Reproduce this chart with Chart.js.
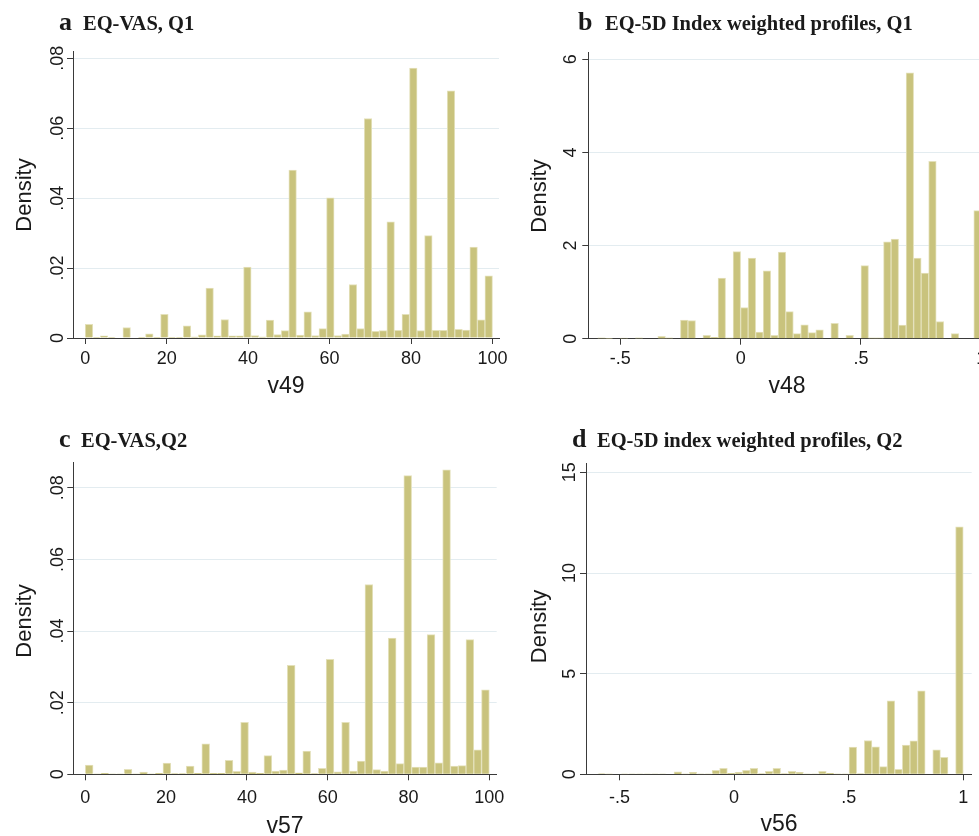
<!DOCTYPE html>
<html>
<head>
<meta charset="utf-8">
<script src="https://cdn.jsdelivr.net/npm/chart.js@4.4.0/dist/chart.umd.min.js"></script>
<style>
  html, body { margin: 0; padding: 0; background: #fff; }
  body { width: 979px; height: 836px; overflow: hidden; position: relative; }
  canvas { position: absolute; }
</style>
</head>
<body>
<canvas id="panelB" width="500" height="418" style="left:500px;top:0"></canvas>
<canvas id="panelD" width="500" height="416" style="left:500px;top:420px"></canvas>
<canvas id="panelA" width="520" height="418" style="left:0;top:0"></canvas>
<canvas id="panelC" width="520" height="416" style="left:0;top:420px"></canvas>
<script>
// a: EQ-VAS, Q1 (v49), 54 bins over 0-100
const vasQ1Density = [
  0.0039, 0.0002, 0.0006, 0.0002, 0, 0.0030, 0, 0.0001, 0.0012, 0.0002,
  0.0068, 0.0002, 0.0002, 0.0035, 0.0003, 0.0009, 0.0143, 0.0006, 0.0053, 0.0006,
  0.0006, 0.0203, 0.0007, 0.0003, 0.0051, 0.0010, 0.0021, 0.0480, 0.0008, 0.0075,
  0.0007, 0.0027, 0.0401, 0.0007, 0.0011, 0.0153, 0.0027, 0.0628, 0.0019, 0.0021,
  0.0332, 0.0022, 0.0068, 0.0772, 0.0021, 0.0293, 0.0022, 0.0022, 0.0707, 0.0025,
  0.0023, 0.0260, 0.0052, 0.0178
];
const vasQ1BinStart = 0;
const vasQ1BinWidth = 100 / 54;

// c: EQ-VAS, Q2 (v57), 52 bins over 0-100
const vasQ2Density = [
  0.0026, 0.0001, 0.0003, 0.0001, 0.0001, 0.0014, 0.0001, 0.0006, 0.0001, 0.0003,
  0.0031, 0.0002, 0.0002, 0.0023, 0.0003, 0.0085, 0.0003, 0.0003, 0.0039, 0.0008,
  0.0145, 0.0006, 0.0003, 0.0052, 0.0009, 0.0012, 0.0304, 0.0004, 0.0065, 0.0002,
  0.0017, 0.0321, 0.0007, 0.0145, 0.0009, 0.0037, 0.0530, 0.0013, 0.0009, 0.0380,
  0.0030, 0.0834, 0.0020, 0.0020, 0.0390, 0.0032, 0.0850, 0.0023, 0.0024, 0.0376,
  0.0068, 0.0236
];
const vasQ2BinStart = 0;
const vasQ2BinWidth = 100 / 52;

// b: EQ-5D index weighted profiles, Q1 (v48), 51 bins over -.594 to 1
const eqQ1Density = [
  0.02, 0.005, 0, 0.015, 0, 0.02, 0, 0, 0.05, 0.02,
  0, 0.40, 0.39, 0, 0.07, 0.03, 1.30, 0.02, 1.87, 0.67,
  1.73, 0.14, 1.46, 0.07, 1.86, 0.58, 0.11, 0.30, 0.13, 0.19,
  0, 0.33, 0, 0.07, 0, 1.57, 0.02, 0.02, 2.08, 2.14,
  0.29, 5.71, 1.73, 1.41, 3.81, 0.37, 0, 0.11, 0, 0,
  2.75
];
const eqQ1BinStart = -0.594;
const eqQ1BinWidth = 1.594 / 51;

// d: EQ-5D index weighted profiles, Q2 (v56), 48 bins over -.594 to 1
const eqQ2Density = [
  0.03, 0.01, 0, 0.01, 0.02, 0.02, 0.02, 0.02, 0.02, 0,
  0.12, 0.01, 0.10, 0.01, 0.01, 0.20, 0.30, 0.05, 0.10, 0.20,
  0.30, 0.03, 0.15, 0.30, 0.03, 0.15, 0.10, 0.02, 0.02, 0.15,
  0.05, 0.01, 0.01, 1.35, 0.03, 1.68, 1.36, 0.38, 3.65, 0.25,
  1.45, 1.66, 4.15, 0, 1.21, 0.84, 0, 12.29
];
const eqQ2BinStart = -0.594;
const eqQ2BinWidth = 1.594 / 48;

// tick values and labels
const vasTicks = [0, 20, 40, 60, 80, 100];
const vasTickLabels = ['0', '20', '40', '60', '80', '100'];
const indexTicks = [-0.5, 0, 0.5, 1];
const indexTickLabels = ['-.5', '0', '.5', '1'];
const vasDensityTicks = [0, 0.02, 0.04, 0.06, 0.08];
const vasDensityLabels = ['0', '.02', '.04', '.06', '.08'];
const eqQ1DensityTicks = [0, 2, 4, 6];
const eqQ1DensityLabels = ['0', '2', '4', '6'];
const eqQ2DensityTicks = [0, 5, 10, 15];
const eqQ2DensityLabels = ['0', '5', '10', '15'];

const BAR_FILL = '#c9c37d';
const BAR_EDGE = '#e4e1bb';
const GRID = '#e3ecf0';
const AXIS = '#3a3a3a';
const TEXT = '#1a1a1a';
const SANS = '"Liberation Sans", Arial, Helvetica, sans-serif';
const SERIF = '"Liberation Serif", "Times New Roman", serif';

function binPoints(start, width, density) {
  return density.map((d, i) => ({ x: start + (i + 0.5) * width, y: d }));
}

// Draws tick labels, axis titles and panel heading
function panelText(p) {
  return {
    id: 'panelText',
    afterDraw(chart) {
      const ctx = chart.ctx;
      const area = chart.chartArea;
      const xs = chart.scales.x;
      const ys = chart.scales.y;
      ctx.save();
      ctx.fillStyle = TEXT;
      ctx.textBaseline = 'alphabetic';

      ctx.font = '18px ' + SANS;
      ctx.textAlign = 'center';
      p.xTicks.forEach((v, i) => {
        ctx.fillText(p.xLabels[i], xs.getPixelForValue(v), area.bottom + p.xTickGap);
      });
      p.yTicks.forEach((v, i) => {
        ctx.save();
        ctx.translate(area.left - p.yTickGap, ys.getPixelForValue(v));
        ctx.rotate(-Math.PI / 2);
        ctx.fillText(p.yLabels[i], 0, 0);
        ctx.restore();
      });

      ctx.font = '23px ' + SANS;
      ctx.fillText(p.xTitle, p.xTitleX, p.xTitleY);
      ctx.save();
      ctx.font = '22px ' + SANS;
      ctx.translate(p.yTitleX, p.yTitleY);
      ctx.rotate(-Math.PI / 2);
      ctx.fillText('Density', 0, 0);
      ctx.restore();

      ctx.textAlign = 'left';
      ctx.font = 'bold 26px ' + SERIF;
      ctx.fillText(p.letter, p.letterX, p.headY);
      ctx.font = 'bold 20.5px ' + SERIF;
      ctx.fillText(p.heading, p.headX, p.headY);
      ctx.restore();
    }
  };
}

function makePanel(id, p) {
  const canvas = document.getElementById(id);
  const W = canvas.width, H = canvas.height;
  new Chart(canvas, {
    type: 'bar',
    data: {
      datasets: [{
        data: binPoints(p.binStart, p.binWidth, p.density),
        backgroundColor: BAR_FILL,
        borderColor: BAR_EDGE,
        borderWidth: 1,
        barPercentage: 1,
        categoryPercentage: 1
      }]
    },
    options: {
      responsive: false,
      animation: false,
      devicePixelRatio: 1,
      events: [],
      layout: { padding: { left: 0, top: p.top, right: W - p.right, bottom: 0 } },
      plugins: { legend: { display: false }, tooltip: { enabled: false } },
      scales: {
        x: {
          type: 'linear',
          min: p.xMin,
          max: p.xMax,
          offset: false,
          afterBuildTicks: s => { s.ticks = p.xTicks.map(v => ({ value: v })); },
          afterFit: s => { s.height = H - p.bottom; },
          ticks: { display: false },
          grid: { offset: false, drawOnChartArea: false, drawTicks: true, tickLength: 6, tickColor: AXIS },
          border: { display: true, color: AXIS, width: 1 }
        },
        y: {
          type: 'linear',
          min: 0,
          max: p.yMax,
          afterBuildTicks: s => { s.ticks = p.yTicks.map(v => ({ value: v })); },
          afterFit: s => { s.width = p.left; },
          ticks: { display: false },
          grid: {
            color: c => (c.tick && c.tick.value === 0 ? 'rgba(0,0,0,0)' : GRID),
            lineWidth: 1,
            drawTicks: true,
            tickLength: 6,
            tickColor: AXIS
          },
          border: { display: true, color: AXIS, width: 1 }
        }
      }
    },
    plugins: [panelText(p)]
  });
}

makePanel('panelA', {
  density: vasQ1Density, binStart: vasQ1BinStart, binWidth: vasQ1BinWidth,
  left: 73, right: 499, top: 51, bottom: 338,
  xMin: -3.0, xMax: 101.6, yMax: 0.0821,
  xTicks: vasTicks, xLabels: vasTickLabels, yTicks: vasDensityTicks, yLabels: vasDensityLabels,
  xTickGap: 26, yTickGap: 10.5,
  xTitle: 'v49', xTitleX: 286, xTitleY: 393, yTitleX: 30.5, yTitleY: 195,
  letter: 'a', letterX: 59, heading: 'EQ-VAS, Q1', headX: 83, headY: 30
});

makePanel('panelB', {
  density: eqQ1Density, binStart: eqQ1BinStart, binWidth: eqQ1BinWidth,
  left: 88.3, right: 490, top: 52.3, bottom: 338.7,
  xMin: -0.633, xMax: 1.036, yMax: 6.15,
  xTicks: indexTicks, xLabels: indexTickLabels, yTicks: eqQ1DensityTicks, yLabels: eqQ1DensityLabels,
  xTickGap: 25.5, yTickGap: 12.3,
  xTitle: 'v48', xTitleX: 287, xTitleY: 393, yTitleX: 46, yTitleY: 196,
  letter: 'b', letterX: 78, heading: 'EQ-5D Index weighted profiles, Q1', headX: 105, headY: 30
});

makePanel('panelC', {
  density: vasQ2Density, binStart: vasQ2BinStart, binWidth: vasQ2BinWidth,
  left: 73.3, right: 496.7, top: 42.7, bottom: 354.3,
  xMin: -2.97, xMax: 101.83, yMax: 0.087,
  xTicks: vasTicks, xLabels: vasTickLabels, yTicks: vasDensityTicks, yLabels: vasDensityLabels,
  xTickGap: 28.4, yTickGap: 10,
  xTitle: 'v57', xTitleX: 285, xTitleY: 413, yTitleX: 30.5, yTitleY: 201,
  letter: 'c', letterX: 59, heading: 'EQ-VAS,Q2', headX: 81, headY: 27
});

makePanel('panelD', {
  density: eqQ2Density, binStart: eqQ2BinStart, binWidth: eqQ2BinWidth,
  left: 86, right: 471.7, top: 43.3, bottom: 354.3,
  xMin: -0.646, xMax: 1.037, yMax: 15.45,
  xTicks: indexTicks, xLabels: indexTickLabels, yTicks: eqQ2DensityTicks, yLabels: eqQ2DensityLabels,
  xTickGap: 29, yTickGap: 11,
  xTitle: 'v56', xTitleX: 279, xTitleY: 410.7, yTitleX: 46, yTitleY: 206.5,
  letter: 'd', letterX: 72, heading: 'EQ-5D index weighted profiles, Q2', headX: 97, headY: 27
});
</script>
</body>
</html>
